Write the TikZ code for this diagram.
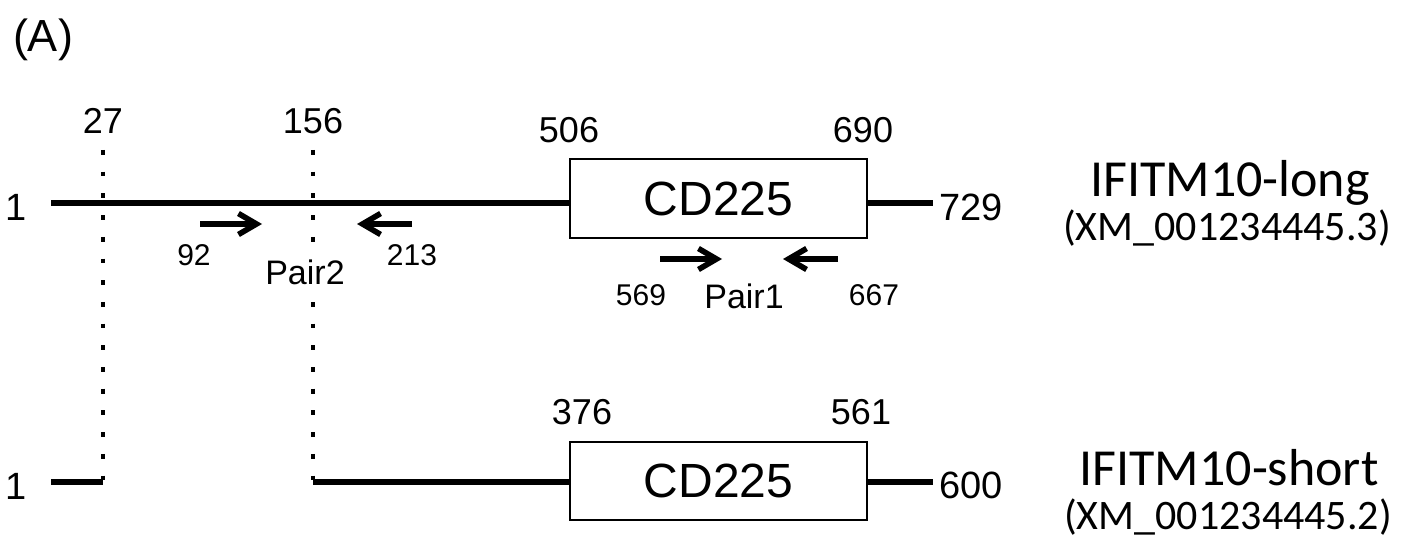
\documentclass[tikz,border=0pt]{standalone}
\usepackage{fontspec}
\setmainfont{Liberation Sans}
\newfontfamily\calibri{Carlito}
\usetikzlibrary{arrows.meta, positioning}

\begin{document}
\begin{tikzpicture}[x=0.5pt, y=-0.5pt,
  seq/.style={line width=2.8pt},
  junc/.style={line width=2.4pt, dash pattern=on 2.4pt off 8.45pt},
  cdbox/.style={rectangle, draw, line width=1pt, minimum width=148.5pt, minimum height=39pt, inner sep=0pt, font=\fontsize{24}{28}\selectfont},
  primer/.style={-{Straight Barb[length=9pt, width=10.5pt]}, line width=2.8pt},
  site/.style={inner sep=0pt, font=\fontsize{18}{21}\selectfont},
  endpt/.style={inner sep=0pt, font=\fontsize{19}{22}\selectfont},
  psite/.style={inner sep=0pt, font=\fontsize{15}{18}\selectfont},
  pair/.style={inner sep=0pt, font=\fontsize{17}{20}\selectfont},
  tname/.style={inner sep=0pt, anchor=base, font=\calibri\fontsize{26}{30}\selectfont},
  acc/.style={inner sep=0pt, anchor=base, font=\calibri\fontsize{21}{25}\selectfont}
]
\useasboundingbox (0,0) rectangle (1401,545);
\node[inner sep=0pt, anchor=base, font=\fontsize{22.5}{26}\selectfont] (panel) at (43,52) {(A)};

% exon junctions
\coordinate (j1t) at (103,150);
\coordinate (j1b) at (103,482);
\coordinate (j2t) at (313,150);
\coordinate (j2b) at (313,482);
\draw[junc] (j1t) -- (j1b);
\draw[junc] (j2t) -- (j2b);
\node[site, above=8pt of j1t] (p27) {27};
\node[site, above=8pt of j2t] (p156) {156};

% long transcript
\node[cdbox] (cdl) at (718.5,198.5) {CD225};
\coordinate (ls) at (51,203);
\coordinate (le) at (933,203);
\draw[seq] (ls) -- (ls -| cdl.west);
\draw[seq] (cdl.east |- le) -- (le);
\node[endpt, left=12pt of ls, yshift=-2pt] (l1) {1};
\node[endpt, right=3pt of le, yshift=-2pt] (l729) {729};
\node[site, above=7.5pt of cdl.north west] (p506) {506};
\node[site, above=7.5pt of cdl.north east, xshift=-2.5pt] (p690) {690};
\node[tname] (tlong) at (1230,197) {IFITM10-long};
\node[acc] (alng) at (1227,241) {(XM\_001234445.3)};

% primer pair 2
\coordinate (f2s) at (200,224);
\coordinate (f2e) at (262,224);
\coordinate (r2s) at (412,224);
\coordinate (r2e) at (357,224);
\draw[primer] (f2s) -- (f2e);
\draw[primer] (r2s) -- (r2e);
\node[psite] (p92) at (194,255) {92};
\node[psite] (p213) at (412,255) {213};
\node[pair, fill=white, inner ysep=9pt, inner xsep=2pt] (pair2) at (305,272) {Pair2};

% primer pair 1
\coordinate (f1s) at (660,259);
\coordinate (f1e) at (722,259);
\coordinate (r1s) at (838,259);
\coordinate (r1e) at (783,259);
\draw[primer] (f1s) -- (f1e);
\draw[primer] (r1s) -- (r1e);
\node[psite] (p569) at (641,295) {569};
\node[pair] (pair1) at (744,296) {Pair1};
\node[psite] (p667) at (874,295) {667};

% short transcript
\node[cdbox] (cds) at (718.5,481) {CD225};
\coordinate (ss) at (51,482);
\coordinate (se) at (933,482);
\draw[seq] (ss) -- (j1b);
\draw[seq] (j2b) -- (j2b -| cds.west);
\draw[seq] (cds.east |- se) -- (se);
\node[endpt, left=12pt of ss, yshift=-2pt] (s1) {1};
\node[endpt, right=3pt of se, yshift=-1.5pt] (s600) {600};
\node[site, above=8pt of cds.north west, xshift=6.5pt] (p376) {376};
\node[site, above=8pt of cds.north east, xshift=-3.5pt] (p561) {561};
\node[tname] (tshort) at (1229,485) {IFITM10-short};
\node[acc] (ashort) at (1228,529) {(XM\_001234445.2)};
\end{tikzpicture}
\end{document}
